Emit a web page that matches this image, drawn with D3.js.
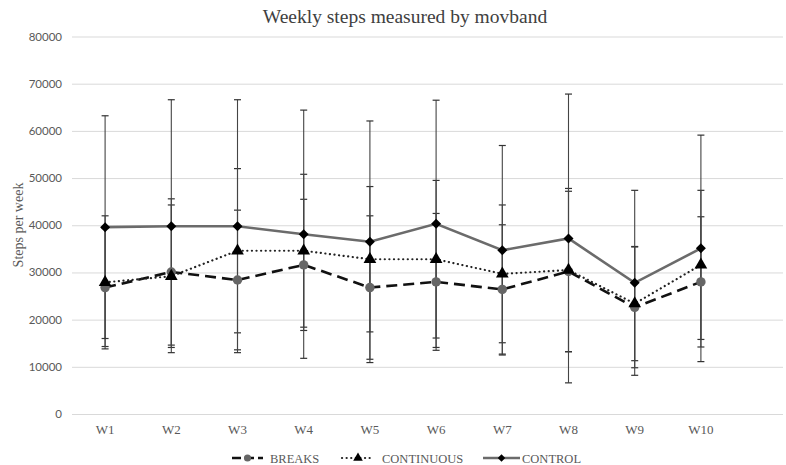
<!DOCTYPE html>
<html lang="en">
<head>
<meta charset="UTF-8">
<title>Weekly steps</title>
<script src="https://d3js.org/d3.v7.min.js"></script>
<style>
  body { margin: 0; background: #fff; }
  .grid line { stroke: #d9d9d9; stroke-width: 1px; }
  .grid .domain { display: none; }
</style>
</head>
<body>
<div id="chart"></div>
<script>
// data
var weeks = ["W1","W2","W3","W4","W5","W6","W7","W8","W9","W10"];
var breaksMean = [26800, 30100, 28400, 31600, 26800, 28000, 26400, 30200, 22600, 28000];
var breaksSd = [12500, 15500, 14800, 13900, 15200, 14500, 13700, 17000, 12800, 13800];
var continuousMean = [27900, 29200, 34600, 34600, 32800, 32800, 29700, 30500, 23400, 31600];
var continuousSd = [14100, 15100, 17400, 16200, 15400, 16700, 14600, 17300, 12100, 15800];
var controlMean = [39600, 39800, 39800, 38100, 36500, 40300, 34700, 37200, 27800, 35100];
var controlSd = [23600, 26800, 26800, 26300, 25600, 26200, 22200, 30600, 19600, 24000];
var yTicks = [0, 10000, 20000, 30000, 40000, 50000, 60000, 70000, 80000];

var W = 786, H = 465;
var plotLeft = 72, plotRight = 783, plotTop = 36.5, plotBottom = 414;

var svg = d3.select("#chart").append("svg").attr("width", W).attr("height", H);

var x = d3.scaleBand().domain(weeks).range([plotLeft, plotLeft + 66.2 * weeks.length]);
var y = d3.scaleLinear().domain([0, 80000]).range([plotBottom, plotTop]);
var cx = function(i) { return x(weeks[i]) + x.bandwidth() / 2; };

// gridlines
svg.append("g").attr("class", "grid")
  .attr("transform", "translate(" + plotLeft + ",0)")
  .call(d3.axisLeft(y).tickValues(yTicks).tickSize(-(plotRight - plotLeft)).tickFormat(""));

// y tick labels
svg.append("g").selectAll("text").data(yTicks).join("text")
  .attr("x", 62).attr("y", function(d) { return y(d) + 4; })
  .attr("text-anchor", "end")
  .style("font-family", "Lato, 'Open Sans', sans-serif").style("font-size", "11.5px")
  .style("fill", "#595959")
  .text(function(d) { return d; });

// x labels
svg.append("g").selectAll("text").data(weeks).join("text")
  .attr("x", function(d) { return x(d) + x.bandwidth() / 2; }).attr("y", 434)
  .attr("text-anchor", "middle")
  .style("font-family", "'Liberation Serif', serif").style("font-size", "13px")
  .style("fill", "#595959")
  .text(function(d) { return d; });

// title
svg.append("text").attr("x", 405).attr("y", 23).attr("text-anchor", "middle")
  .style("font-family", "'Liberation Serif', serif").style("font-size", "19.5px")
  .style("fill", "#404040")
  .text("Weekly steps measured by movband");

// y axis title
svg.append("text").attr("transform", "translate(23,225) rotate(-90)")
  .attr("text-anchor", "middle")
  .style("font-family", "'Liberation Serif', serif").style("font-size", "14px")
  .style("fill", "#595959")
  .text("Steps per week");

var series = [
  { name: "BREAKS", mean: breaksMean, sd: breaksSd, stroke: "#111", width: 2.6, dash: "11,6", marker: "circle", mfill: "#666" },
  { name: "CONTINUOUS", mean: continuousMean, sd: continuousSd, stroke: "#222", width: 2.2, dash: "0.1,4.5", marker: "triangle", mfill: "#000" },
  { name: "CONTROL", mean: controlMean, sd: controlSd, stroke: "#6b6b6b", width: 2.6, dash: null, marker: "diamond", mfill: "#000" }
];

// error bars
var eb = svg.append("g");
series.forEach(function(s) {
  s.mean.forEach(function(m, i) {
    var hi = y(m + s.sd[i]), lo = y(m - s.sd[i]), px = cx(i);
    eb.append("line").attr("x1", px).attr("x2", px).attr("y1", hi).attr("y2", lo)
      .attr("stroke", "#444").attr("stroke-width", 1.1);
    [hi, lo].forEach(function(cy) {
      eb.append("line").attr("x1", px - 3.5).attr("x2", px + 3.5).attr("y1", cy).attr("y2", cy)
        .attr("stroke", "#333").attr("stroke-width", 1.2);
    });
  });
});

// diamond = square turned 45 degrees
var symbols = {
  circle: { type: d3.symbolCircle, rot: 0 },
  triangle: { type: d3.symbolTriangle, rot: 0 },
  diamond: { type: d3.symbolSquare, rot: 45 }
};

var line = d3.line().x(function(d, i) { return cx(i); }).y(function(d) { return y(d); });

series.forEach(function(s) {
  var sym = symbols[s.marker];
  svg.append("path").attr("d", line(s.mean)).attr("fill", "none")
    .attr("stroke", s.stroke).attr("stroke-width", s.width)
    .attr("stroke-dasharray", s.dash)
    .attr("stroke-linecap", s.marker === "triangle" ? "round" : "butt");
  svg.append("g").selectAll("path").data(s.mean).join("path")
    .attr("transform", function(d, i) { return "translate(" + cx(i) + "," + y(d) + ") rotate(" + sym.rot + ")"; })
    .attr("d", d3.symbol().type(sym.type).size(s.marker === "diamond" ? 50 : 70))
    .attr("fill", s.mfill);
});

// legend
var legendItems = [
  { s: series[0], x0: 232, x1: 263, tx: 270, dash: "9,4" },
  { s: series[1], x0: 342, x1: 374, tx: 382, dash: "0.1,4.5" },
  { s: series[2], x0: 483, x1: 520, tx: 522, dash: null }
];
var lg = svg.append("g");
legendItems.forEach(function(it) {
  var ly = 458, sym = symbols[it.s.marker];
  lg.append("line").attr("x1", it.x0).attr("x2", it.x1).attr("y1", ly).attr("y2", ly)
    .attr("stroke", it.s.stroke).attr("stroke-width", it.s.width)
    .attr("stroke-dasharray", it.dash)
    .attr("stroke-linecap", it.s.marker === "triangle" ? "round" : "butt");
  lg.append("path").attr("transform", "translate(" + ((it.x0 + it.x1) / 2) + "," + ly + ") rotate(" + sym.rot + ")")
    .attr("d", d3.symbol().type(sym.type).size(it.s.marker === "diamond" ? 28 : 40))
    .attr("fill", it.s.mfill);
  lg.append("text").attr("x", it.tx).attr("y", ly + 4.5)
    .style("font-family", "'Liberation Serif', serif").style("font-size", "12.5px")
    .style("fill", "#595959")
    .text(it.s.name);
});
</script>
</body>
</html>
